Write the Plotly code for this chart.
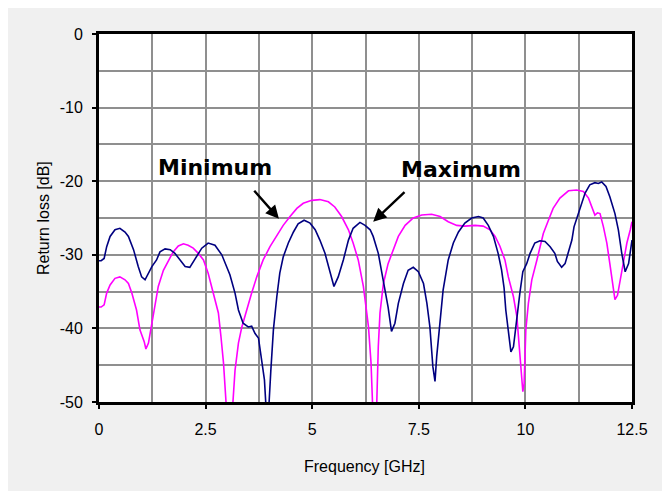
import plotly.graph_objects as go

# Navy trace (measurement 1)
navy_f = [0.0, 0.05, 0.12, 0.18, 0.26, 0.375, 0.49, 0.61, 0.69, 0.81, 0.92, 1.0, 1.08, 1.16, 1.24, 1.35,
          1.43, 1.55, 1.67, 1.78, 1.90, 2.02, 2.13, 2.25, 2.41, 2.56, 2.72, 2.88, 3.0, 3.07, 3.19, 3.27,
          3.38, 3.50, 3.58, 3.66, 3.74, 3.82, 3.88, 3.92, 3.98, 4.03, 4.09, 4.17, 4.24, 4.32, 4.44, 4.56,
          4.67, 4.81, 4.95, 5.07, 5.18, 5.30, 5.42, 5.51, 5.61, 5.73, 5.85, 5.96, 6.12, 6.24, 6.36, 6.43,
          6.55, 6.67, 6.78, 6.86, 6.94, 7.02, 7.14, 7.25, 7.37, 7.49, 7.61, 7.69, 7.76, 7.83, 7.88, 7.92,
          8.00, 8.07, 8.19, 8.31, 8.43, 8.58, 8.74, 8.90, 9.01, 9.13, 9.25, 9.36, 9.44, 9.50, 9.54, 9.60,
          9.66, 9.72, 9.80, 9.87, 9.94, 10.03, 10.11, 10.22, 10.34, 10.46, 10.58, 10.69, 10.75, 10.85,
          10.93, 11.01, 11.09, 11.14, 11.24, 11.32, 11.40, 11.51, 11.63, 11.71, 11.79, 11.89, 11.98,
          12.10, 12.18, 12.26, 12.34, 12.42, 12.5]
navy_db = [-30.8, -30.8, -30.5, -28.9, -27.5, -26.6, -26.4, -26.9, -27.5, -29.3, -31.6, -33.0, -33.4, -32.5,
           -31.6, -30.7, -29.6, -29.2, -29.3, -29.8, -30.7, -31.6, -31.7, -30.5, -29.1, -28.4, -28.7, -30.0,
           -31.8, -32.7, -35.2, -37.5, -39.3, -39.8, -39.7, -40.7, -41.3, -44.3, -47.0, -51.0, -51.0, -45.7,
           -40.2, -35.7, -32.5, -30.3, -28.4, -26.9, -25.8, -25.3, -25.7, -26.6, -28.0, -29.8, -32.5, -34.3,
           -33.0, -30.7, -28.0, -26.4, -25.6, -26.0, -26.6, -27.5, -29.8, -33.4, -37.1, -40.4, -39.3, -36.6,
           -33.9, -32.1, -31.7, -32.3, -33.9, -36.6, -39.8, -45.2, -47.2, -43.8, -38.9, -34.8, -30.7, -28.4,
           -26.9, -25.7, -25.0, -24.8, -25.0, -26.0, -27.5, -29.8, -32.0, -34.5, -37.5, -40.7, -43.2, -42.5,
           -38.4, -35.2, -32.3, -31.2, -29.8, -28.4, -28.1, -28.2, -28.9, -29.8, -30.9, -31.7, -31.2, -29.6,
           -28.0, -26.2, -24.4, -23.0, -21.6, -20.5, -20.2, -20.3, -20.1, -20.7, -22.1, -24.4, -26.6, -29.8,
           -32.3, -31.2, -28.0]

# Magenta trace (measurement 2)
mag_f = [0.0, 0.05, 0.12, 0.18, 0.26, 0.375, 0.49, 0.61, 0.69, 0.77, 0.88, 0.96, 1.06, 1.10, 1.16, 1.24,
         1.31, 1.39, 1.51, 1.63, 1.74, 1.86, 1.98, 2.09, 2.21, 2.33, 2.45, 2.56, 2.68, 2.80, 2.86, 2.92,
         2.99, 3.13, 3.19, 3.27, 3.35, 3.46, 3.58, 3.70, 3.85, 4.01, 4.17, 4.32, 4.48, 4.64, 4.79, 4.99,
         5.18, 5.38, 5.53, 5.69, 5.85, 5.96, 6.08, 6.20, 6.26, 6.32, 6.38, 6.42, 6.51, 6.55, 6.59, 6.67,
         6.78, 6.90, 7.02, 7.18, 7.37, 7.57, 7.80, 8.00, 8.19, 8.39, 8.58, 8.82, 9.01, 9.17, 9.29, 9.40,
         9.52, 9.60, 9.72, 9.80, 9.86, 9.90, 9.94, 9.97, 10.01, 10.07, 10.15, 10.27, 10.34, 10.42, 10.54,
         10.65, 10.81, 11.01, 11.20, 11.36, 11.48, 11.55, 11.63, 11.69, 11.75, 11.83, 11.91, 11.98, 12.06,
         12.10, 12.16, 12.22, 12.30, 12.38, 12.46, 12.5]
mag_db = [-37.1, -37.1, -36.8, -35.2, -34.1, -33.2, -33.0, -33.4, -33.9, -35.2, -37.5, -40.2, -41.8, -42.8,
          -42.0, -39.3, -36.6, -34.3, -32.1, -30.7, -29.6, -28.8, -28.5, -28.7, -29.1, -29.8, -30.7, -32.5,
          -35.2, -37.9, -41.1, -44.7, -51.0, -51.0, -45.7, -42.0, -39.8, -37.5, -35.2, -33.0, -30.7, -28.9,
          -27.3, -26.0, -24.8, -23.7, -23.0, -22.6, -22.5, -22.8, -23.5, -24.8, -26.6, -28.4, -30.7, -34.3,
          -37.0, -39.8, -44.7, -51.0, -51.0, -42.5, -37.9, -33.9, -31.2, -29.3, -27.5, -26.0, -25.0, -24.6,
          -24.5, -24.8, -25.5, -26.0, -26.1, -26.0, -26.1, -26.6, -27.5, -28.8, -30.7, -33.0, -35.7, -38.4,
          -42.5, -44.7, -48.6, -47.5, -40.2, -36.6, -33.4, -30.7, -28.9, -27.1, -25.3, -23.7, -22.3, -21.3,
          -21.2, -21.4, -22.3, -23.5, -24.6, -24.3, -24.4, -26.2, -28.4, -31.2, -34.3, -36.1, -35.5, -33.4,
          -30.7, -28.4, -26.6, -25.5]

x_ticks = [0, 2.5, 5, 7.5, 10, 12.5]
x_tick_labels = ["0", "2.5", "5", "7.5", "10", "12.5"]
y_ticks = [0, -10, -20, -30, -40, -50]
y_tick_labels = ["0", "-10", "-20", "-30", "-40", "-50"]

# Annotation labels: (text, text x, text y, arrow head x, arrow head y, arrow tail x, arrow tail y)
notes = [
    ("Minimum", 2.72, -18.2, 4.22, -25.1, 3.61, -21.1),
    ("Maximum", 8.49, -18.4, 6.43, -25.5, 7.20, -21.3),
]

fig = go.Figure()
fig.add_trace(go.Scatter(x=mag_f, y=mag_db, mode="lines",
                         line=dict(color="#ff00ff", width=1.6), showlegend=False))
fig.add_trace(go.Scatter(x=navy_f, y=navy_db, mode="lines",
                         line=dict(color="#000080", width=1.6), showlegend=False))

annotations = []
for text, tx, ty, hx, hy, ax_, ay_ in notes:
    annotations.append(dict(x=tx, y=ty, xref="x", yref="y", text="<b>" + text + "</b>",
                            showarrow=False, font=dict(family="DejaVu Sans", size=22, color="#000000")))
    annotations.append(dict(x=hx, y=hy, xref="x", yref="y", ax=ax_, ay=ay_, axref="x", ayref="y",
                            text="", showarrow=True, arrowhead=2, arrowsize=1.1, arrowwidth=2.4,
                            arrowcolor="#000000"))

annotations.append(dict(x=0.499, y=-0.174, xref="paper", yref="paper", text="Frequency [GHz]",
                        showarrow=False, yanchor="middle",
                        font=dict(family="Liberation Sans", size=16, color="#000000")))
annotations.append(dict(x=-0.105, y=0.50, xref="paper", yref="paper", text="Return loss [dB]",
                        showarrow=False, textangle=-90, xanchor="center", yanchor="middle",
                        font=dict(family="Liberation Sans", size=16, color="#000000")))

fig.update_layout(
    width=670, height=491,
    margin=dict(l=91, r=46, t=26, b=97),
    paper_bgcolor="#f0f0f0",
    plot_bgcolor="#ffffff",
    annotations=annotations,
)

fig.update_xaxes(range=[0, 12.5], tickvals=x_ticks, ticktext=x_tick_labels,
                 showgrid=True, gridcolor="#8f8f8f", gridwidth=1.5,
                 minor=dict(dtick=1.25, tick0=0, showgrid=True, gridcolor="#8f8f8f", gridwidth=1.5),
                 showline=True, linecolor="#000000", linewidth=3, mirror=True,
                 ticks="outside", ticklen=4, tickwidth=1.5, tickcolor="#000000",
                 ticklabelstandoff=7, zeroline=False,
                 tickfont=dict(family="Liberation Sans", size=16, color="#000000"))
fig.update_yaxes(range=[-50, 0], tickvals=y_ticks, ticktext=y_tick_labels,
                 showgrid=True, gridcolor="#8f8f8f", gridwidth=1.5,
                 minor=dict(dtick=5, tick0=0, showgrid=True, gridcolor="#8f8f8f", gridwidth=1.5),
                 showline=True, linecolor="#000000", linewidth=3, mirror=True,
                 ticks="outside", ticklen=4, tickwidth=1.5, tickcolor="#000000",
                 ticklabelstandoff=6, zeroline=False,
                 tickfont=dict(family="Liberation Sans", size=16, color="#000000"))

fig.write_html("out.html")
